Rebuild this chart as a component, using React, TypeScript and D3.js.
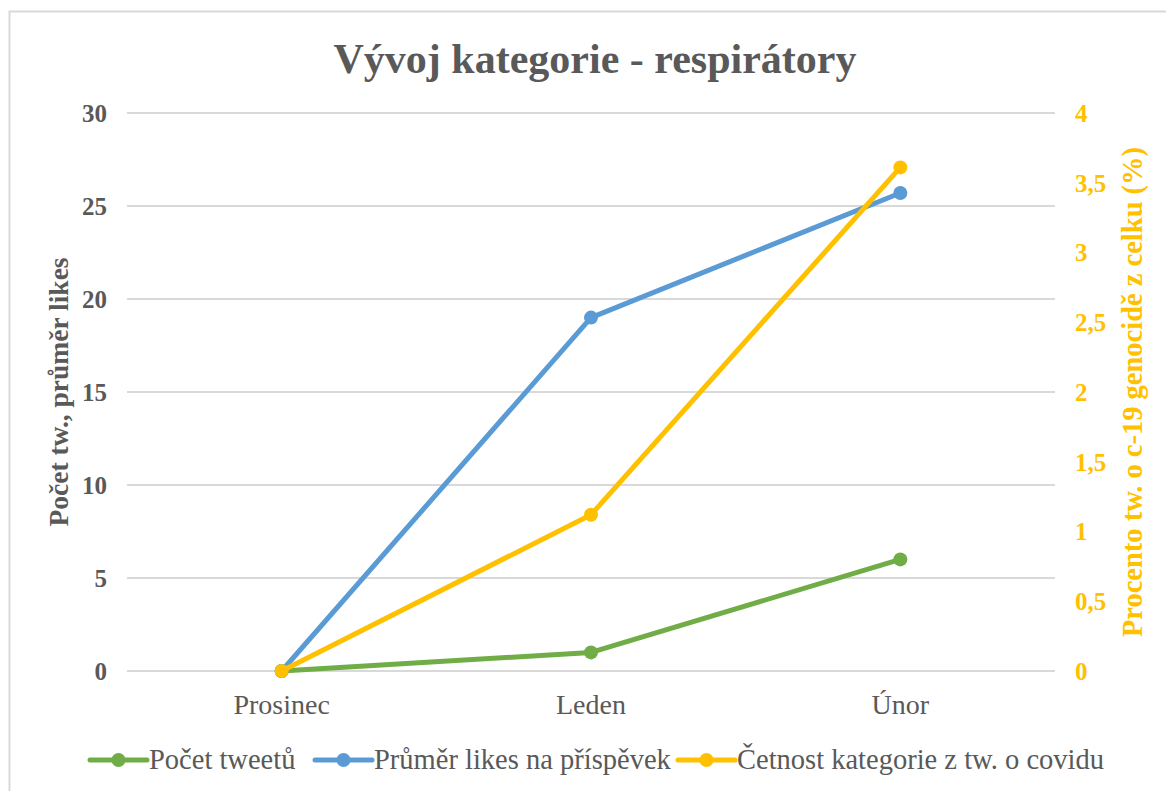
import * as d3 from 'd3';

const categories = ['Prosinec', 'Leden', 'Únor'];
const tweetCount = [0, 1, 6];
const avgLikes = [0, 19, 25.7];
const categoryShare = [0, 1.12, 3.61];
const leftTicks = [0, 5, 10, 15, 20, 25, 30];
const rightTicks = [0, 0.5, 1, 1.5, 2, 2.5, 3, 3.5, 4];

const seriesNames = ['Počet tweetů', 'Průměr likes na příspěvek', 'Četnost kategorie z tw. o covidu'];
const seriesColors = ['#70ad47', '#5b9bd5', '#ffc000'];

const W = 1166, H = 791;
const margin = { top: 113, right: 111, bottom: 120, left: 127 };
const textColor = '#595959';
const font = '"Liberation Serif", "Times New Roman", serif';

const App = () => {
    const x = d3.scalePoint<string>()
        .domain(categories)
        .range([margin.left, W - margin.right])
        .padding(0.5);
    const yLeft = d3.scaleLinear().domain([0, 30]).range([H - margin.bottom, margin.top]);
    const yRight = d3.scaleLinear().domain([0, 4]).range([H - margin.bottom, margin.top]);

    const lineLeft = d3.line<number>()
        .x((d, i) => x(categories[i]) as number)
        .y(d => yLeft(d));
    const lineRight = d3.line<number>()
        .x((d, i) => x(categories[i]) as number)
        .y(d => yRight(d));

    const series = [
        { values: tweetCount, line: lineLeft, y: yLeft },
        { values: avgLikes, line: lineLeft, y: yLeft },
        { values: categoryShare, line: lineRight, y: yRight },
    ];

    // legend positions
    const legendX = [90, 315, 678];
    const legendY = 760;

    return (
        <svg width={W} height={H} style={{ position: 'absolute', left: 0, top: 0, background: '#fff' }} fontFamily={font}>
            <rect x={9.5} y={11.5} width={W} height={H} fill="#fff" stroke="#d9d9d9" strokeWidth={2} />
            <text x={595} y={73} textAnchor="middle" fontSize={42} fontWeight="bold" fill={textColor}>
                Vývoj kategorie - respirátory
            </text>

            {/* gridlines */}
            {leftTicks.map(t => (
                <line key={t} x1={margin.left} x2={W - margin.right} y1={yLeft(t)} y2={yLeft(t)}
                    stroke="#d9d9d9" strokeWidth={2} />
            ))}

            {/* left axis labels */}
            {leftTicks.map(t => (
                <text key={t} x={107} y={yLeft(t)} dy="0.35em" textAnchor="end" fontSize={25}
                    fontWeight="bold" fill={textColor}>{t}</text>
            ))}
            {/* right axis labels */}
            {rightTicks.map(t => (
                <text key={t} x={1075} y={yRight(t)} dy="0.35em" textAnchor="start" fontSize={25}
                    fontWeight="bold" fill="#ffc000">{String(t).replace('.', ',')}</text>
            ))}

            {/* category labels */}
            {categories.map(c => (
                <text key={c} x={x(c)} y={714} textAnchor="middle" fontSize={28} fill={textColor}>{c}</text>
            ))}

            {/* axis titles */}
            <text transform={`translate(68,${392}) rotate(-90)`} textAnchor="middle" fontSize={27.5}
                fontWeight="bold" fill={textColor}>Počet tw., průměr likes</text>
            <text transform={`translate(1142,${392}) rotate(-90)`} textAnchor="middle" fontSize={28.5}
                fontWeight="bold" fill="#ffc000">Procento tw. o c-19 genocidě z celku (%)</text>

            {/* series */}
            {series.map((s, si) => (
                <g key={si}>
                    <path d={s.line(s.values) as string} fill="none" stroke={seriesColors[si]}
                        strokeWidth={5} strokeLinejoin="round" strokeLinecap="round" />
                    {s.values.map((v, i) => (
                        <circle key={i} cx={x(categories[i])} cy={s.y(v)} r={7} fill={seriesColors[si]} />
                    ))}
                </g>
            ))}

            {/* legend */}
            {seriesNames.map((n, i) => (
                <g key={n} transform={`translate(${legendX[i]},${legendY})`}>
                    <line x1={0} x2={57} y1={0} y2={0} stroke={seriesColors[i]} strokeWidth={5} strokeLinecap="round" />
                    <circle cx={28.5} cy={0} r={7} fill={seriesColors[i]} />
                    <text x={59} y={0} dy="0.32em" fontSize={28.5} fill={textColor}>{n}</text>
                </g>
            ))}
        </svg>
    );
};

export default App;
